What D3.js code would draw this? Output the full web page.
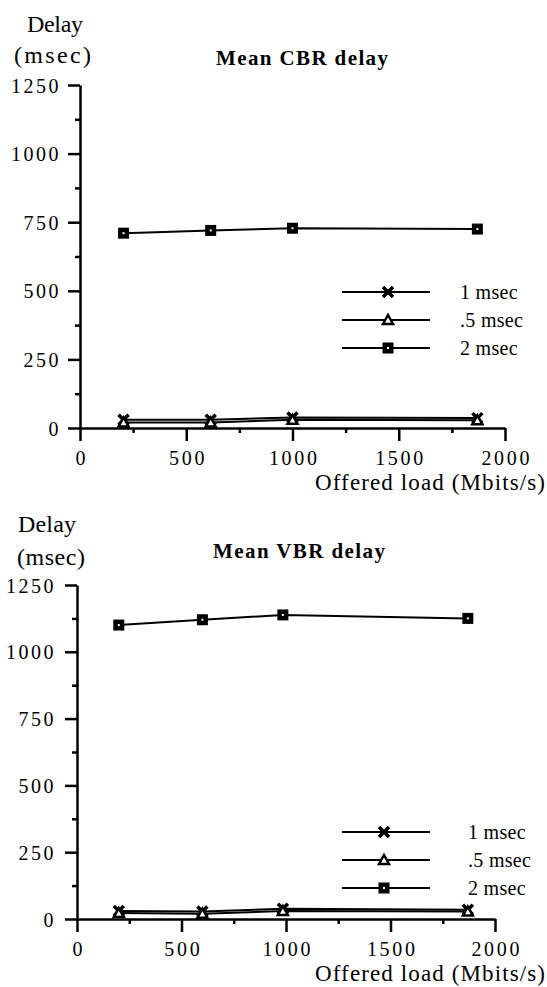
<!DOCTYPE html>
<html>
<head>
<meta charset="utf-8">
<script src="https://cdn.jsdelivr.net/npm/d3@7"></script>
<style>
  body { margin: 0; background: #fff; }
  .domain { stroke: #000; stroke-width: 2.5px; }
  .tick line { stroke: #000; stroke-width: 2.5px; }
</style>
</head>
<body>
<svg id="chart" width="547" height="987"></svg>
<script>
// offered load (Mbits/s) and mean delay (msec)
const loadCBR = [205, 615, 1000, 1870];
const cbr1 = [30, 30, 38, 36];
const cbr05 = [20, 20, 30, 28];
const cbr2 = [710, 720, 728, 725];

const loadVBR = [200, 600, 985, 1870];
const vbr1 = [30, 28, 38, 35];
const vbr05 = [22, 20, 30, 28];
const vbr2 = [1100, 1120, 1138, 1125];

const yTicks = [0, 250, 500, 750, 1000, 1250];
const yMinor = [125, 375, 625, 875, 1125];
const xTicks = [0, 500, 1000, 1500, 2000];
const xMinor = [250, 750, 1250, 1750];
const seriesNames = ['1 msec', '.5 msec', '2 msec'];
const seriesMarks = ['cross', 'triangle', 'square'];

const FONT = 'Liberation Serif';
const svg = d3.select('#chart');

function txt(g, x, y, s, size, opts = {}) {
  const t = g.append('text')
    .attr('x', x).attr('y', y)
    .attr('font-family', FONT)
    .attr('font-size', size)
    .attr('text-anchor', opts.anchor || 'start')
    .attr('fill', '#000')
    .text(s);
  if (opts.bold) t.attr('font-weight', 'bold');
  if (opts.ls) t.attr('letter-spacing', opts.ls);
  if (opts.len) t.attr('textLength', opts.len).attr('lengthAdjust', 'spacing');
  return t;
}

function marker(g, type, x, y) {
  if (type === 'square') {
    g.append('rect').attr('x', x - 5.5).attr('y', y - 5.5).attr('width', 11).attr('height', 11).attr('fill', '#000');
    g.append('rect').attr('x', x - 1).attr('y', y - 1).attr('width', 2).attr('height', 2).attr('fill', '#fff');
  } else if (type === 'triangle') {
    g.append('path')
      .attr('d', `M${x},${y - 5}L${x + 5},${y + 4}L${x - 5},${y + 4}Z`)
      .attr('fill', '#fff').attr('stroke', '#000').attr('stroke-width', 2.5);
  } else {
    g.append('path')
      .attr('d', `M${x - 5},${y - 5}L${x + 5},${y + 5}M${x + 5},${y - 5}L${x - 5},${y + 5}`)
      .attr('stroke', '#000').attr('stroke-width', 3.5);
  }
}

function drawPanel(cfg) {
  const x = d3.scaleLinear().domain([0, 2000]).range([cfg.x0, cfg.x1]);
  const y = d3.scaleLinear().domain([0, 1250]).range([cfg.y0, cfg.y1]);
  const g = svg.append('g');

  // y axis
  const ya = g.append('g').attr('transform', `translate(${cfg.x0},0)`)
    .call(d3.axisLeft(y).tickValues(yTicks).tickSize(12).tickSizeOuter(0).tickPadding(cfg.yPad).tickFormat(d3.format('d')));
  ya.attr('font-family', FONT).attr('font-size', 20);
  ya.selectAll('text').attr('fill', '#000').attr('letter-spacing', 2.5).attr('dy', '0.35em');
  g.append('g').attr('transform', `translate(${cfg.x0},0)`)
    .call(d3.axisLeft(y).tickValues(yMinor).tickSize(5).tickSizeOuter(0).tickFormat(''))
    .select('.domain').remove();

  // x axis
  const xa = g.append('g').attr('transform', `translate(0,${cfg.y0})`)
    .call(d3.axisBottom(x).tickValues(xTicks).tickSize(13).tickSizeOuter(0).tickPadding(10).tickFormat(d3.format('d')));
  xa.attr('font-family', FONT).attr('font-size', 20);
  xa.selectAll('text').attr('fill', '#000').attr('letter-spacing', 2.7).attr('dx', 1.3).attr('dy', '0.71em');
  g.append('g').attr('transform', `translate(0,${cfg.y0})`)
    .call(d3.axisBottom(x).tickValues(xMinor).tickSize(5).tickSizeOuter(0).tickFormat(''))
    .select('.domain').remove();

  // labels
  txt(g, cfg.delayX, cfg.delayY, 'Delay', 24, { len: cfg.delayLen });
  txt(g, cfg.msecX, cfg.msecY, '(msec)', 24, { len: cfg.msecLen });
  txt(g, cfg.titleX, cfg.titleY, cfg.title, 21, { bold: true, len: 172 });
  txt(g, 545, cfg.y0 + 62, 'Offered load (Mbits/s)', 23, { anchor: 'end', len: 230 });

  // series
  const line = d3.line().x(d => x(d[0])).y(d => y(d[1]));
  cfg.series.forEach(vals => {
    const pts = cfg.load.map((l, i) => [l, vals[i]]);
    g.append('path').datum(pts).attr('d', line)
      .attr('fill', 'none').attr('stroke', '#000').attr('stroke-width', 2);
  });
  cfg.series.forEach((vals, si) => {
    cfg.load.forEach((l, i) => marker(g, seriesMarks[si], x(l), y(vals[i])));
  });

  // legend
  seriesNames.forEach((name, i) => {
    const ly = cfg.legY + i * 28;
    g.append('line').attr('x1', cfg.legX).attr('x2', cfg.legX + 88).attr('y1', ly).attr('y2', ly)
      .attr('stroke', '#000').attr('stroke-width', 2);
    marker(g, seriesMarks[i], cfg.legMarkX, ly);
    txt(g, cfg.legTextX, ly + 7, name, 20, { ls: 0.3 });
  });
}

drawPanel({
  x0: 80, x1: 505, y0: 428, y1: 85, yPad: 7,
  load: loadCBR, series: [cbr1, cbr05, cbr2],
  title: 'Mean CBR delay', titleX: 216, titleY: 65,
  delayX: 27, delayY: 32, delayLen: 56,
  msecX: 14, msecY: 63, msecLen: 77,
  legX: 342, legY: 292, legMarkX: 388, legTextX: 460
});

drawPanel({
  x0: 77, x1: 495, y0: 919, y1: 585, yPad: 9,
  load: loadVBR, series: [vbr1, vbr05, vbr2],
  title: 'Mean VBR delay', titleX: 213, titleY: 558,
  delayX: 18, delayY: 532, delayLen: 58,
  msecX: 17, msecY: 565, msecLen: 68,
  legX: 342, legY: 832, legMarkX: 384, legTextX: 468
});
</script>
</body>
</html>
